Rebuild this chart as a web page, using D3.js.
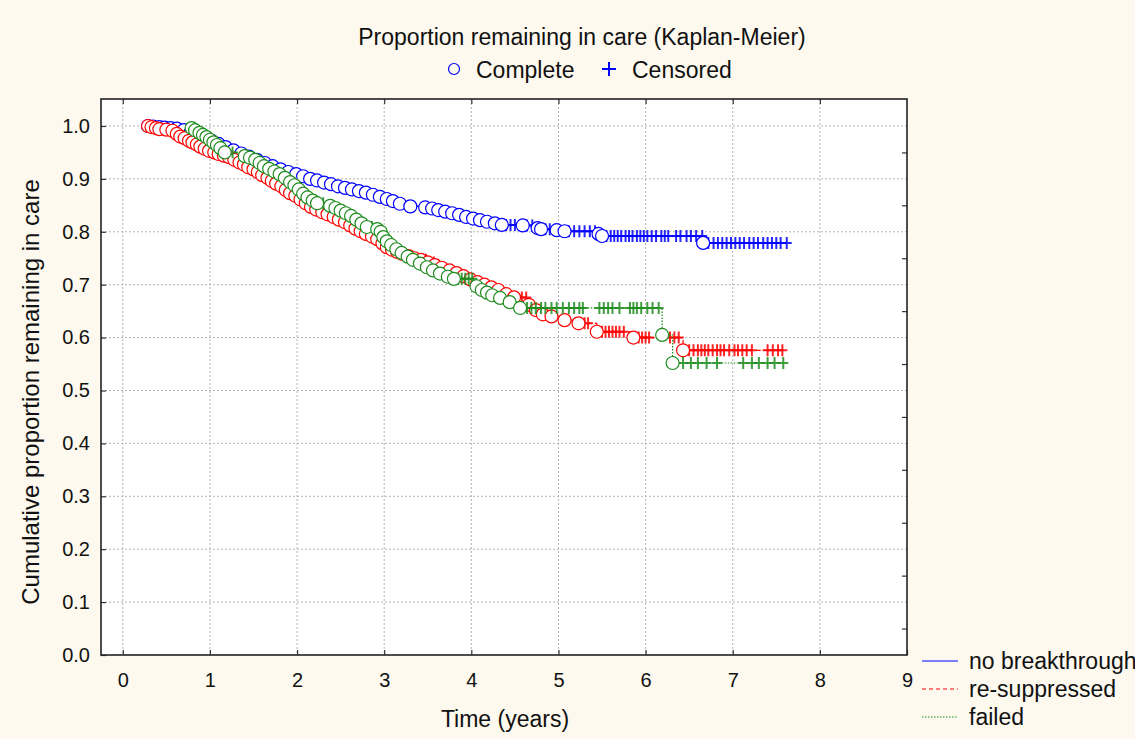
<!DOCTYPE html>
<html>
<head>
<meta charset="utf-8">
<script src="https://cdn.jsdelivr.net/npm/d3@7"></script>
<style>
  body { margin: 0; background: #fdf9ef; }
  svg { display: block; font-family: "Liberation Sans", Arial, sans-serif; }
</style>
</head>
<body>
<div id="chart"></div>
<script>
// groups and their marks
const groups = ["no breakthrough", "re-suppressed", "failed"];
const groupColors = ["#0000ff", "#ff0000", "#1e8c1e"];
const xTicks = [0, 1, 2, 3, 4, 5, 6, 7, 8, 9];
const yTicks = [0.0, 0.1, 0.2, 0.3, 0.4, 0.5, 0.6, 0.7, 0.8, 0.9, 1.0];

// complete events: [time (years), cumulative proportion]
const blueEvents = [
  [0.29, 1.000], [0.35, 0.999], [0.42, 0.998], [0.48, 0.997], [0.55, 0.996], [0.62, 0.995],
  [0.70, 0.992], [0.78, 0.988], [0.86, 0.983], [0.94, 0.978], [1.02, 0.972], [1.10, 0.966],
  [1.18, 0.960], [1.27, 0.954], [1.36, 0.948], [1.45, 0.942], [1.54, 0.936], [1.63, 0.930],
  [1.72, 0.924], [1.81, 0.918], [1.90, 0.913], [1.99, 0.909], [2.07, 0.905], [2.15, 0.900],
  [2.23, 0.897], [2.31, 0.893], [2.39, 0.890], [2.47, 0.886], [2.55, 0.883], [2.63, 0.880],
  [2.71, 0.877], [2.79, 0.874], [2.87, 0.870], [2.95, 0.866], [3.03, 0.862], [3.10, 0.858],
  [3.18, 0.853], [3.30, 0.848], [3.47, 0.846], [3.55, 0.844], [3.62, 0.841], [3.70, 0.838],
  [3.78, 0.835], [3.86, 0.832], [3.94, 0.828], [4.02, 0.825], [4.10, 0.822], [4.18, 0.819],
  [4.27, 0.816], [4.35, 0.813], [4.59, 0.812], [4.76, 0.807], [4.80, 0.805], [4.98, 0.803],
  [5.07, 0.801], [5.46, 0.796], [5.50, 0.792], [6.66, 0.779]
];
const redEvents = [
  [0.29, 1.000], [0.33, 0.998], [0.38, 0.996], [0.42, 0.994], [0.50, 0.993], [0.57, 0.991],
  [0.62, 0.985], [0.66, 0.980], [0.71, 0.977], [0.76, 0.972], [0.80, 0.969], [0.85, 0.965],
  [0.89, 0.961], [0.94, 0.957], [0.99, 0.953], [1.05, 0.950], [1.10, 0.947], [1.16, 0.944],
  [1.22, 0.941], [1.28, 0.936], [1.34, 0.931], [1.39, 0.927], [1.44, 0.922], [1.50, 0.918],
  [1.55, 0.913], [1.60, 0.907], [1.66, 0.902], [1.71, 0.896], [1.76, 0.891], [1.82, 0.886],
  [1.87, 0.879], [1.92, 0.873], [1.98, 0.868], [2.04, 0.861], [2.10, 0.854], [2.16, 0.847],
  [2.22, 0.842], [2.29, 0.837], [2.35, 0.833], [2.42, 0.828], [2.48, 0.823], [2.55, 0.818],
  [2.61, 0.812], [2.67, 0.806], [2.73, 0.801], [2.79, 0.796], [2.86, 0.791], [2.92, 0.786],
  [2.98, 0.778], [3.03, 0.771], [3.09, 0.766], [3.15, 0.762], [3.21, 0.758], [3.28, 0.754],
  [3.35, 0.750], [3.42, 0.747], [3.50, 0.742], [3.58, 0.737], [3.66, 0.732], [3.75, 0.727],
  [3.83, 0.722], [3.91, 0.716], [3.99, 0.710], [4.07, 0.705], [4.15, 0.700], [4.23, 0.695],
  [4.31, 0.690], [4.40, 0.682], [4.49, 0.676], [4.66, 0.662], [4.74, 0.652], [4.82, 0.644],
  [4.92, 0.640], [5.07, 0.633], [5.23, 0.627], [5.44, 0.611], [5.86, 0.600], [6.43, 0.576]
];
const greenEvents = [
  [0.79, 0.996], [0.83, 0.992], [0.88, 0.987], [0.92, 0.983], [0.96, 0.979], [1.00, 0.974],
  [1.04, 0.969], [1.08, 0.964], [1.12, 0.958], [1.17, 0.950], [1.40, 0.943], [1.46, 0.940],
  [1.52, 0.936], [1.57, 0.930], [1.62, 0.924], [1.68, 0.919], [1.74, 0.914], [1.80, 0.909],
  [1.86, 0.902], [1.92, 0.894], [1.97, 0.888], [2.02, 0.880], [2.07, 0.872], [2.12, 0.865],
  [2.18, 0.859], [2.23, 0.854], [2.38, 0.849], [2.44, 0.845], [2.50, 0.840], [2.56, 0.835],
  [2.62, 0.830], [2.68, 0.823], [2.74, 0.816], [2.80, 0.809], [2.92, 0.805], [2.96, 0.800],
  [2.99, 0.790], [3.03, 0.782], [3.08, 0.775], [3.14, 0.767], [3.20, 0.760], [3.27, 0.753],
  [3.33, 0.747], [3.41, 0.740], [3.49, 0.733], [3.56, 0.727], [3.64, 0.721], [3.73, 0.715],
  [3.80, 0.711], [4.06, 0.697], [4.12, 0.690], [4.18, 0.685], [4.24, 0.680], [4.33, 0.675],
  [4.44, 0.667], [4.56, 0.656], [6.19, 0.605], [6.31, 0.552]
];

// censored times (years)
const blueCensored = [
  4.40, 4.45, 4.50, 4.64, 4.70, 4.85, 4.90, 5.12, 5.18, 5.24, 5.30, 5.36, 5.42,
  5.55, 5.60, 5.64, 5.68, 5.72, 5.77, 5.81, 5.85, 5.90, 5.94, 5.98, 6.02, 6.07, 6.12,
  6.18, 6.22, 6.26, 6.35, 6.40, 6.47, 6.52, 6.58, 6.65,
  6.72, 6.78, 6.83, 6.88, 6.93, 6.98, 7.03, 7.08, 7.13, 7.19, 7.24, 7.29, 7.35, 7.40,
  7.45, 7.50, 7.55, 7.62
];
const redCensored = [
  3.48, 3.52, 3.57, 3.62, 4.52, 4.58, 4.63, 5.30, 5.34,
  5.50, 5.54, 5.58, 5.62, 5.66, 5.70, 5.75, 5.92, 5.96, 6.00, 6.04, 6.28, 6.33, 6.38,
  6.50, 6.55, 6.60, 6.64, 6.68, 6.72, 6.77, 6.82, 6.86, 6.90, 6.96, 7.02, 7.06, 7.11,
  7.16, 7.22, 7.40, 7.46, 7.52, 7.57
];
const greenCensored = [
  1.26, 2.30, 2.86, 3.85, 3.89, 3.93, 3.97, 4.01,
  4.64, 4.69, 4.74, 4.80, 4.85, 4.92, 4.98, 5.05, 5.12, 5.18, 5.24, 5.28,
  5.47, 5.52, 5.57, 5.62, 5.70, 5.82, 5.86, 5.90, 5.95, 6.02, 6.08, 6.15,
  6.43, 6.52, 6.60, 6.70, 6.82, 7.12, 7.22, 7.30, 7.40, 7.48, 7.58
];

const series = [
  { name: groups[0], color: groupColors[0], events: blueEvents, censored: blueCensored, dash: null },
  { name: groups[1], color: groupColors[1], events: redEvents, censored: redCensored, dash: "4,3" },
  { name: groups[2], color: groupColors[2], events: greenEvents, censored: greenCensored, dash: "1.5,1.5" }
];

var width = 1135, height = 739;
var plot = { left: 101, right: 907, top: 99, bottom: 655 };
var textSize = 23;

var svg = d3.select("#chart").append("svg")
    .attr("width", width)
    .attr("height", height);

svg.append("rect")
    .attr("width", width).attr("height", height)
    .attr("fill", "#fdf9ef");

var xScale = d3.scaleLinear().domain([-0.25, 9]).range([plot.left, plot.right]);
var yScale = d3.scaleLinear().domain([0, 1.051]).range([plot.bottom, plot.top]);

// plot background
svg.append("rect")
    .attr("x", plot.left).attr("y", plot.top)
    .attr("width", plot.right - plot.left).attr("height", plot.bottom - plot.top)
    .attr("fill", "#ffffff");

// grid
svg.append("g").selectAll("line")
    .data(xTicks.filter(d => d < 9))
    .join("line")
    .attr("x1", d => xScale(d)).attr("x2", d => xScale(d))
    .attr("y1", plot.top).attr("y2", plot.bottom)
    .attr("stroke", "#b4b4b4").attr("stroke-dasharray", "2,2");
svg.append("g").selectAll("line")
    .data(yTicks.filter(d => d > 0))
    .join("line")
    .attr("x1", plot.left).attr("x2", plot.right)
    .attr("y1", d => yScale(d)).attr("y2", d => yScale(d))
    .attr("stroke", "#b4b4b4").attr("stroke-dasharray", "2,2");

// axes (ticks pointing inward)
var xAxis = svg.append("g")
    .attr("transform", `translate(0,${plot.bottom})`)
    .call(d3.axisBottom(xScale).tickValues(xTicks).tickSize(-5).tickPadding(18).tickFormat(d3.format("d")));
var yAxis = svg.append("g")
    .attr("transform", `translate(${plot.left},0)`)
    .call(d3.axisLeft(yScale).tickValues(yTicks).tickSize(-5).tickPadding(11).tickFormat(d3.format(".1f")));
[xAxis, yAxis].forEach(a => {
    a.select(".domain").remove();
    a.selectAll(".tick line").attr("stroke", "#333").attr("stroke-width", 1.2);
    a.selectAll(".tick text").attr("font-size", 20).attr("fill", "#111")
        .attr("font-family", '"Liberation Sans", Arial, sans-serif');
});

// mirrored ticks on top and right
svg.append("g")
    .attr("transform", `translate(0,${plot.top})`)
    .call(d3.axisTop(xScale).tickValues(xTicks.filter(d => d < 9)).tickSize(-5).tickFormat(""))
    .call(g => g.select(".domain").remove())
    .selectAll(".tick line").attr("stroke", "#333").attr("stroke-width", 1.2);
svg.append("g")
    .attr("transform", `translate(${plot.right},0)`)
    .call(d3.axisRight(yScale).tickValues(yTicks.slice(0, 10).map(d => d + 0.05)).tickSize(-5).tickFormat(""))
    .call(g => g.select(".domain").remove())
    .selectAll(".tick line").attr("stroke", "#333").attr("stroke-width", 1.2);

// frame
svg.append("rect")
    .attr("x", plot.left).attr("y", plot.top)
    .attr("width", plot.right - plot.left).attr("height", plot.bottom - plot.top)
    .attr("fill", "none").attr("stroke", "#222").attr("stroke-width", 1.6);

// curves
var line = d3.line()
    .x(d => xScale(d[0]))
    .y(d => yScale(d[1]))
    .curve(d3.curveStepAfter);

function levelAt(events, t) {
    var v = events[0][1];
    events.forEach(e => { if (e[0] <= t) v = e[1]; });
    return v;
}

series.forEach(function (s) {
    var cens = s.censored.map(t => [t, levelAt(s.events, t)]);
    var pts = s.events.concat(cens).sort((a, b) => a[0] - b[0]);
    var g = svg.append("g");

    g.append("path")
        .attr("d", line(pts))
        .attr("fill", "none")
        .attr("stroke", s.color)
        .attr("stroke-width", 1.2)
        .attr("stroke-dasharray", s.dash);

    // censored marks
    g.selectAll(".cens")
        .data(cens)
        .join("path")
        .attr("class", "cens")
        .attr("d", d => {
            var x = xScale(d[0]), y = yScale(d[1]);
            return `M${x - 5},${y}H${x + 5}M${x},${y - 6}V${y + 6}`;
        })
        .attr("stroke", s.color)
        .attr("stroke-width", 2)
        .attr("stroke-opacity", 0.85);

    // complete events
    g.selectAll("circle")
        .data(s.events)
        .join("circle")
        .attr("cx", d => xScale(d[0]))
        .attr("cy", d => yScale(d[1]))
        .attr("r", 6.5)
        .attr("fill", "#ffffff")
        .attr("stroke", s.color)
        .attr("stroke-width", 1.2);
});

// title and marker legend
svg.append("text")
    .attr("x", 582).attr("y", 45)
    .attr("text-anchor", "middle")
    .attr("font-size", textSize).attr("fill", "#111")
    .text("Proportion remaining in care (Kaplan-Meier)");

svg.append("circle")
    .attr("cx", 454).attr("cy", 69).attr("r", 5.5)
    .attr("fill", "none").attr("stroke", "#0000ff").attr("stroke-width", 1.2);
svg.append("text")
    .attr("x", 476).attr("y", 78)
    .attr("font-size", textSize).attr("fill", "#111")
    .text("Complete");
svg.append("path")
    .attr("d", "M602,69H616M609,62V76")
    .attr("stroke", "#0000ff").attr("stroke-width", 2);
svg.append("text")
    .attr("x", 632).attr("y", 78)
    .attr("font-size", textSize).attr("fill", "#111")
    .text("Censored");

// axis titles
svg.append("text")
    .attr("x", 505).attr("y", 727)
    .attr("text-anchor", "middle")
    .attr("font-size", textSize).attr("fill", "#111")
    .text("Time (years)");
svg.append("text")
    .attr("transform", "translate(39,392) rotate(-90)")
    .attr("text-anchor", "middle")
    .attr("font-size", 24).attr("fill", "#111")
    .text("Cumulative proportion remaining in care");

// group legend
var legend = svg.append("g").selectAll("g")
    .data(series)
    .join("g")
    .attr("transform", (d, i) => `translate(922,${661 + i * 28})`);
legend.append("line")
    .attr("x1", 0).attr("x2", 36)
    .attr("stroke", d => d.color)
    .attr("stroke-width", 1.2)
    .attr("stroke-dasharray", d => d.dash);
legend.append("text")
    .attr("x", 47).attr("y", 8)
    .attr("font-size", textSize).attr("fill", "#111")
    .text(d => d.name);
</script>
</body>
</html>
